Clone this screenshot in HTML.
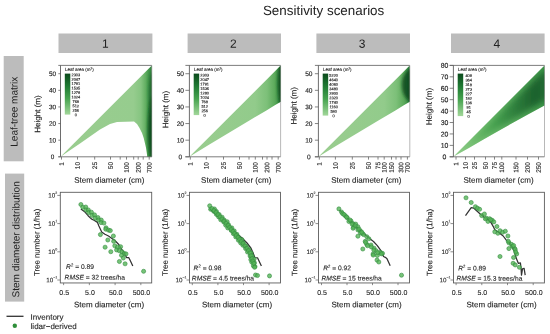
<!DOCTYPE html>
<html><head><meta charset="utf-8"><style>
html,body{margin:0;padding:0;background:#fff;}
svg{display:block;font-family:"Liberation Sans",sans-serif;text-rendering:geometricPrecision;will-change:transform;}
</style></head><body>
<svg width="550" height="334" viewBox="0 0 550 334">
<defs><filter id="blur2" x="-100%" y="-50%" width="300%" height="200%"><feGaussianBlur stdDeviation="1.6"/></filter><filter id="blur3" x="-20%" y="-20%" width="140%" height="140%"><feGaussianBlur stdDeviation="3"/></filter><linearGradient id="cbar" x1="0" y1="0" x2="0" y2="1">
<stop offset="0" stop-color="#0b4a1c"/><stop offset="0.3" stop-color="#1f7a33"/><stop offset="0.6" stop-color="#45a24e"/><stop offset="1" stop-color="#a2d79a"/></linearGradient><linearGradient id="hg0" gradientUnits="userSpaceOnUse" x1="60.5" y1="0" x2="151.8" y2="0">
<stop offset="0" stop-color="#9acd8f"/><stop offset="0.80" stop-color="#96cc8e"/><stop offset="0.88" stop-color="#86c581"/><stop offset="0.93" stop-color="#64b063"/><stop offset="0.965" stop-color="#43984b"/><stop offset="1" stop-color="#2f7f3c"/></linearGradient><clipPath id="cp0"><polygon points="60.50,156.80 151.80,65.40 151.80,156.80 147.20,156.80 147.00,154.40 146.00,147.80 144.90,143.00 143.70,138.00 142.00,133.00 139.50,128.00 137.00,124.00 134.00,121.60 117.00,122.00 110.00,124.00 100.00,129.50 90.00,136.50 80.00,143.50 70.00,150.20"/></clipPath><linearGradient id="hg1" gradientUnits="userSpaceOnUse" x1="189.4" y1="0" x2="280.6" y2="0">
<stop offset="0" stop-color="#9acd8f"/><stop offset="0.72" stop-color="#92cb8b"/><stop offset="0.85" stop-color="#7dc079"/><stop offset="0.93" stop-color="#5eac5d"/><stop offset="1" stop-color="#368c42"/></linearGradient><clipPath id="cp1"><polygon points="189.40,156.80 280.70,65.40 280.70,101.70 274.40,105.50 266.40,110.50 249.40,120.50 229.40,132.50 209.40,144.50"/></clipPath><linearGradient id="hg2" gradientUnits="userSpaceOnUse" x1="318.4" y1="0" x2="409.8" y2="0">
<stop offset="0" stop-color="#9acd8f"/><stop offset="0.72" stop-color="#92cb8b"/><stop offset="0.85" stop-color="#7dc079"/><stop offset="0.93" stop-color="#5eac5d"/><stop offset="1" stop-color="#368c42"/></linearGradient><clipPath id="cp2"><polygon points="318.40,156.80 409.70,65.40 409.70,101.70 403.40,105.50 395.40,110.50 378.40,120.50 358.40,132.50 338.40,144.50"/></clipPath><linearGradient id="hg3" gradientUnits="userSpaceOnUse" x1="453.4" y1="0" x2="544.5" y2="0">
<stop offset="0" stop-color="#93ce8c"/><stop offset="0.45" stop-color="#6cb96b"/><stop offset="1" stop-color="#3f9a4a"/></linearGradient>
<linearGradient id="hi3" gradientUnits="userSpaceOnUse" x1="453.4" y1="0" x2="544.5" y2="0">
<stop offset="0" stop-color="#88c884"/><stop offset="0.25" stop-color="#62b562"/><stop offset="0.45" stop-color="#45a04e"/><stop offset="0.7" stop-color="#2b7b3a"/><stop offset="0.9" stop-color="#1c602c"/><stop offset="1" stop-color="#236b33"/></linearGradient><clipPath id="cp3"><polygon points="453.60,156.50 544.50,65.40 544.50,105.60 528.40,114.20 513.40,122.60 498.40,131.00 483.40,139.60 468.40,148.20"/></clipPath></defs>
<text x="323.60" y="15.00" font-size="13.4" text-anchor="middle" fill="#222222" transform="rotate(0.05 323.60 15.00)">Sensitivity scenarios</text>
<rect x="58.50" y="33.50" width="93.90" height="19.50" fill="#bcbcbc"/>
<text x="105.45" y="47.70" font-size="12" text-anchor="middle" fill="#222" transform="rotate(0.05 105.45 47.70)">1</text>
<rect x="187.60" y="33.50" width="93.40" height="19.50" fill="#bcbcbc"/>
<text x="233.30" y="47.70" font-size="12" text-anchor="middle" fill="#222" transform="rotate(0.05 233.30 47.70)">2</text>
<rect x="316.40" y="33.50" width="93.60" height="19.50" fill="#bcbcbc"/>
<text x="362.20" y="47.70" font-size="12" text-anchor="middle" fill="#222" transform="rotate(0.05 362.20 47.70)">3</text>
<rect x="451.00" y="33.50" width="93.60" height="19.50" fill="#bcbcbc"/>
<text x="496.80" y="47.70" font-size="12" text-anchor="middle" fill="#222" transform="rotate(0.05 496.80 47.70)">4</text>
<rect x="3.70" y="56.00" width="20.00" height="105.30" fill="#bcbcbc"/>
<text x="17.60" y="111.70" font-size="10" text-anchor="middle" fill="#222222" transform="rotate(-89.95 17.60 111.70)">Leaf-tree matrix</text>
<rect x="5.00" y="173.60" width="19.20" height="128.00" fill="#bcbcbc"/>
<text x="19.40" y="239.40" font-size="10" text-anchor="middle" fill="#222222" transform="rotate(-89.95 19.40 239.40)">Stem diameter distribution</text>
<polygon points="60.50,156.80 151.80,65.40 151.80,156.80 147.20,156.80 147.00,154.40 146.00,147.80 144.90,143.00 143.70,138.00 142.00,133.00 139.50,128.00 137.00,124.00 134.00,121.60 117.00,122.00 110.00,124.00 100.00,129.50 90.00,136.50 80.00,143.50 70.00,150.20" fill="url(#hg0)"/>
<g clip-path="url(#cp0)"><ellipse cx="153.3" cy="130" rx="5.5" ry="34" fill="#124d1f" fill-opacity="0.95" filter="url(#blur2)"/></g>
<g clip-path="url(#cp0)"><ellipse cx="152.3" cy="94" rx="3.5" ry="22" fill="#1b5e28" fill-opacity="0.7" filter="url(#blur2)"/></g>
<line x1="58.30" y1="65.40" x2="151.80" y2="65.40" stroke="#5c5c5c" stroke-width="0.8"/>
<line x1="58.30" y1="156.80" x2="151.80" y2="156.80" stroke="#5c5c5c" stroke-width="0.8"/>
<line x1="60.50" y1="65.40" x2="60.50" y2="156.80" stroke="#5c5c5c" stroke-width="0.9"/>
<line x1="151.80" y1="65.40" x2="151.80" y2="156.80" stroke="#888" stroke-width="0.6"/>
<line x1="58.30" y1="156.80" x2="60.50" y2="156.80" stroke="#5c5c5c" stroke-width="0.75"/>
<text x="52.55" y="159.09" font-size="6.4" text-anchor="middle" fill="#222222" stroke="#222222" stroke-width="0.14" transform="rotate(0.05 52.55 159.09)">0</text>
<line x1="58.30" y1="140.18" x2="60.50" y2="140.18" stroke="#5c5c5c" stroke-width="0.75"/>
<text x="52.55" y="142.47" font-size="6.4" text-anchor="middle" fill="#222222" stroke="#222222" stroke-width="0.14" transform="rotate(0.05 52.55 142.47)">10</text>
<line x1="58.30" y1="123.56" x2="60.50" y2="123.56" stroke="#5c5c5c" stroke-width="0.75"/>
<text x="52.55" y="125.85" font-size="6.4" text-anchor="middle" fill="#222222" stroke="#222222" stroke-width="0.14" transform="rotate(0.05 52.55 125.85)">20</text>
<line x1="58.30" y1="106.95" x2="60.50" y2="106.95" stroke="#5c5c5c" stroke-width="0.75"/>
<text x="52.55" y="109.24" font-size="6.4" text-anchor="middle" fill="#222222" stroke="#222222" stroke-width="0.14" transform="rotate(0.05 52.55 109.24)">30</text>
<line x1="58.30" y1="90.33" x2="60.50" y2="90.33" stroke="#5c5c5c" stroke-width="0.75"/>
<text x="52.55" y="92.62" font-size="6.4" text-anchor="middle" fill="#222222" stroke="#222222" stroke-width="0.14" transform="rotate(0.05 52.55 92.62)">40</text>
<line x1="58.30" y1="73.71" x2="60.50" y2="73.71" stroke="#5c5c5c" stroke-width="0.75"/>
<text x="52.55" y="76.00" font-size="6.4" text-anchor="middle" fill="#222222" stroke="#222222" stroke-width="0.14" transform="rotate(0.05 52.55 76.00)">50</text>
<line x1="61.50" y1="156.80" x2="61.50" y2="159.60" stroke="#5c5c5c" stroke-width="0.75"/>
<text x="63.80" y="162.00" font-size="6.5" text-anchor="end" fill="#222222" stroke="#222222" stroke-width="0.15" transform="rotate(-89.95 63.80 162.00)">1</text>
<line x1="77.50" y1="156.80" x2="77.50" y2="159.60" stroke="#5c5c5c" stroke-width="0.75"/>
<text x="79.80" y="162.00" font-size="6.5" text-anchor="end" fill="#222222" stroke="#222222" stroke-width="0.15" transform="rotate(-89.95 79.80 162.00)">10</text>
<line x1="94.70" y1="156.80" x2="94.70" y2="159.60" stroke="#5c5c5c" stroke-width="0.75"/>
<text x="97.00" y="162.00" font-size="6.5" text-anchor="end" fill="#222222" stroke="#222222" stroke-width="0.15" transform="rotate(-89.95 97.00 162.00)">25</text>
<line x1="110.50" y1="156.80" x2="110.50" y2="159.60" stroke="#5c5c5c" stroke-width="0.75"/>
<text x="112.80" y="162.00" font-size="6.5" text-anchor="end" fill="#222222" stroke="#222222" stroke-width="0.15" transform="rotate(-89.95 112.80 162.00)">50</text>
<line x1="120.20" y1="156.80" x2="120.20" y2="159.60" stroke="#5c5c5c" stroke-width="0.75"/>
<line x1="126.50" y1="156.80" x2="126.50" y2="159.60" stroke="#5c5c5c" stroke-width="0.75"/>
<text x="128.80" y="162.00" font-size="6.5" text-anchor="end" fill="#222222" stroke="#222222" stroke-width="0.15" transform="rotate(-89.95 128.80 162.00)">100</text>
<line x1="133.70" y1="156.80" x2="133.70" y2="159.60" stroke="#5c5c5c" stroke-width="0.75"/>
<line x1="138.20" y1="156.80" x2="138.20" y2="159.60" stroke="#5c5c5c" stroke-width="0.75"/>
<text x="140.50" y="162.00" font-size="6.5" text-anchor="end" fill="#222222" stroke="#222222" stroke-width="0.15" transform="rotate(-89.95 140.50 162.00)">200</text>
<line x1="143.20" y1="156.80" x2="143.20" y2="159.60" stroke="#5c5c5c" stroke-width="0.75"/>
<line x1="149.20" y1="156.80" x2="149.20" y2="159.60" stroke="#5c5c5c" stroke-width="0.75"/>
<text x="151.50" y="162.00" font-size="6.5" text-anchor="end" fill="#222222" stroke="#222222" stroke-width="0.15" transform="rotate(-89.95 151.50 162.00)">700</text>
<rect x="64.80" y="73.60" width="5.50" height="41.00" fill="url(#cbar)"/>
<text x="65.00" y="70.90" font-size="4.5" text-anchor="start" fill="#222222" stroke="#222222" stroke-width="0.12" transform="rotate(0.05 65.00 70.90)">Leaf area (m<tspan font-size="3" dy="-1.3">2</tspan><tspan dy="1.3">)</tspan></text>
<text x="75.80" y="76.20" font-size="3.9" text-anchor="middle" fill="#222222" stroke="#222222" stroke-width="0.14" transform="rotate(0.05 75.80 76.20)">2303</text>
<text x="75.80" y="80.66" font-size="3.9" text-anchor="middle" fill="#222222" stroke="#222222" stroke-width="0.14" transform="rotate(0.05 75.80 80.66)">2047</text>
<text x="75.80" y="85.11" font-size="3.9" text-anchor="middle" fill="#222222" stroke="#222222" stroke-width="0.14" transform="rotate(0.05 75.80 85.11)">1791</text>
<text x="75.80" y="89.57" font-size="3.9" text-anchor="middle" fill="#222222" stroke="#222222" stroke-width="0.14" transform="rotate(0.05 75.80 89.57)">1535</text>
<text x="75.80" y="94.02" font-size="3.9" text-anchor="middle" fill="#222222" stroke="#222222" stroke-width="0.14" transform="rotate(0.05 75.80 94.02)">1279</text>
<text x="75.80" y="98.48" font-size="3.9" text-anchor="middle" fill="#222222" stroke="#222222" stroke-width="0.14" transform="rotate(0.05 75.80 98.48)">1024</text>
<text x="75.80" y="102.93" font-size="3.9" text-anchor="middle" fill="#222222" stroke="#222222" stroke-width="0.14" transform="rotate(0.05 75.80 102.93)">768</text>
<text x="75.80" y="107.39" font-size="3.9" text-anchor="middle" fill="#222222" stroke="#222222" stroke-width="0.14" transform="rotate(0.05 75.80 107.39)">512</text>
<text x="75.80" y="111.84" font-size="3.9" text-anchor="middle" fill="#222222" stroke="#222222" stroke-width="0.14" transform="rotate(0.05 75.80 111.84)">256</text>
<text x="75.80" y="116.30" font-size="3.9" text-anchor="middle" fill="#222222" stroke="#222222" stroke-width="0.14" transform="rotate(0.05 75.80 116.30)">0</text>
<text x="109.30" y="182.70" font-size="8" text-anchor="middle" fill="#222222" stroke="#222222" stroke-width="0.12" transform="rotate(0.05 109.30 182.70)">Stem diameter (cm)</text>
<text x="40.30" y="114.00" font-size="8" text-anchor="middle" fill="#222222" stroke="#222222" stroke-width="0.12" transform="rotate(-89.95 40.30 114.00)">Height (m)</text>
<polygon points="189.40,156.80 280.70,65.40 280.70,101.70 274.40,105.50 266.40,110.50 249.40,120.50 229.40,132.50 209.40,144.50" fill="url(#hg1)"/>
<g clip-path="url(#cp1)"><ellipse cx="281.8" cy="83" rx="4.0" ry="25" fill="#124d1f" fill-opacity="0.95" filter="url(#blur2)"/></g>
<line x1="185.40" y1="65.40" x2="280.60" y2="65.40" stroke="#5c5c5c" stroke-width="0.8"/>
<line x1="185.40" y1="156.80" x2="280.60" y2="156.80" stroke="#5c5c5c" stroke-width="0.8"/>
<line x1="189.40" y1="65.40" x2="189.40" y2="156.80" stroke="#5c5c5c" stroke-width="0.9"/>
<line x1="280.60" y1="65.40" x2="280.60" y2="156.80" stroke="#888" stroke-width="0.6"/>
<line x1="185.40" y1="156.80" x2="189.40" y2="156.80" stroke="#5c5c5c" stroke-width="0.75"/>
<text x="180.30" y="159.16" font-size="6.6" text-anchor="middle" fill="#222222" stroke="#222222" stroke-width="0.14" transform="rotate(0.05 180.30 159.16)">0</text>
<line x1="185.40" y1="140.18" x2="189.40" y2="140.18" stroke="#5c5c5c" stroke-width="0.75"/>
<text x="180.30" y="142.54" font-size="6.6" text-anchor="middle" fill="#222222" stroke="#222222" stroke-width="0.14" transform="rotate(0.05 180.30 142.54)">10</text>
<line x1="185.40" y1="123.56" x2="189.40" y2="123.56" stroke="#5c5c5c" stroke-width="0.75"/>
<text x="180.30" y="125.93" font-size="6.6" text-anchor="middle" fill="#222222" stroke="#222222" stroke-width="0.14" transform="rotate(0.05 180.30 125.93)">20</text>
<line x1="185.40" y1="106.95" x2="189.40" y2="106.95" stroke="#5c5c5c" stroke-width="0.75"/>
<text x="180.30" y="109.31" font-size="6.6" text-anchor="middle" fill="#222222" stroke="#222222" stroke-width="0.14" transform="rotate(0.05 180.30 109.31)">30</text>
<line x1="185.40" y1="90.33" x2="189.40" y2="90.33" stroke="#5c5c5c" stroke-width="0.75"/>
<text x="180.30" y="92.69" font-size="6.6" text-anchor="middle" fill="#222222" stroke="#222222" stroke-width="0.14" transform="rotate(0.05 180.30 92.69)">40</text>
<line x1="185.40" y1="73.71" x2="189.40" y2="73.71" stroke="#5c5c5c" stroke-width="0.75"/>
<text x="180.30" y="76.07" font-size="6.6" text-anchor="middle" fill="#222222" stroke="#222222" stroke-width="0.14" transform="rotate(0.05 180.30 76.07)">50</text>
<line x1="190.30" y1="156.80" x2="190.30" y2="159.60" stroke="#5c5c5c" stroke-width="0.75"/>
<text x="192.60" y="162.00" font-size="6.5" text-anchor="end" fill="#222222" stroke="#222222" stroke-width="0.15" transform="rotate(-89.95 192.60 162.00)">1</text>
<line x1="206.30" y1="156.80" x2="206.30" y2="159.60" stroke="#5c5c5c" stroke-width="0.75"/>
<text x="208.60" y="162.00" font-size="6.5" text-anchor="end" fill="#222222" stroke="#222222" stroke-width="0.15" transform="rotate(-89.95 208.60 162.00)">10</text>
<line x1="223.50" y1="156.80" x2="223.50" y2="159.60" stroke="#5c5c5c" stroke-width="0.75"/>
<text x="225.80" y="162.00" font-size="6.5" text-anchor="end" fill="#222222" stroke="#222222" stroke-width="0.15" transform="rotate(-89.95 225.80 162.00)">25</text>
<line x1="239.50" y1="156.80" x2="239.50" y2="159.60" stroke="#5c5c5c" stroke-width="0.75"/>
<text x="241.80" y="162.00" font-size="6.5" text-anchor="end" fill="#222222" stroke="#222222" stroke-width="0.15" transform="rotate(-89.95 241.80 162.00)">50</text>
<line x1="249.00" y1="156.80" x2="249.00" y2="159.60" stroke="#5c5c5c" stroke-width="0.75"/>
<line x1="255.30" y1="156.80" x2="255.30" y2="159.60" stroke="#5c5c5c" stroke-width="0.75"/>
<text x="257.60" y="162.00" font-size="6.5" text-anchor="end" fill="#222222" stroke="#222222" stroke-width="0.15" transform="rotate(-89.95 257.60 162.00)">100</text>
<line x1="262.50" y1="156.80" x2="262.50" y2="159.60" stroke="#5c5c5c" stroke-width="0.75"/>
<line x1="267.00" y1="156.80" x2="267.00" y2="159.60" stroke="#5c5c5c" stroke-width="0.75"/>
<text x="269.30" y="162.00" font-size="6.5" text-anchor="end" fill="#222222" stroke="#222222" stroke-width="0.15" transform="rotate(-89.95 269.30 162.00)">200</text>
<line x1="272.00" y1="156.80" x2="272.00" y2="159.60" stroke="#5c5c5c" stroke-width="0.75"/>
<line x1="278.20" y1="156.80" x2="278.20" y2="159.60" stroke="#5c5c5c" stroke-width="0.75"/>
<text x="280.50" y="162.00" font-size="6.5" text-anchor="end" fill="#222222" stroke="#222222" stroke-width="0.15" transform="rotate(-89.95 280.50 162.00)">700</text>
<rect x="193.70" y="73.60" width="5.50" height="41.50" fill="url(#cbar)"/>
<text x="193.90" y="70.90" font-size="4.5" text-anchor="start" fill="#222222" stroke="#222222" stroke-width="0.12" transform="rotate(0.05 193.90 70.90)">Leaf area (m<tspan font-size="3" dy="-1.3">2</tspan><tspan dy="1.3">)</tspan></text>
<text x="204.70" y="76.50" font-size="3.9" text-anchor="middle" fill="#222222" stroke="#222222" stroke-width="0.14" transform="rotate(0.05 204.70 76.50)">2303</text>
<text x="204.70" y="80.98" font-size="3.9" text-anchor="middle" fill="#222222" stroke="#222222" stroke-width="0.14" transform="rotate(0.05 204.70 80.98)">2047</text>
<text x="204.70" y="85.46" font-size="3.9" text-anchor="middle" fill="#222222" stroke="#222222" stroke-width="0.14" transform="rotate(0.05 204.70 85.46)">1791</text>
<text x="204.70" y="89.93" font-size="3.9" text-anchor="middle" fill="#222222" stroke="#222222" stroke-width="0.14" transform="rotate(0.05 204.70 89.93)">1536</text>
<text x="204.70" y="94.41" font-size="3.9" text-anchor="middle" fill="#222222" stroke="#222222" stroke-width="0.14" transform="rotate(0.05 204.70 94.41)">1280</text>
<text x="204.70" y="98.89" font-size="3.9" text-anchor="middle" fill="#222222" stroke="#222222" stroke-width="0.14" transform="rotate(0.05 204.70 98.89)">1024</text>
<text x="204.70" y="103.37" font-size="3.9" text-anchor="middle" fill="#222222" stroke="#222222" stroke-width="0.14" transform="rotate(0.05 204.70 103.37)">768</text>
<text x="204.70" y="107.84" font-size="3.9" text-anchor="middle" fill="#222222" stroke="#222222" stroke-width="0.14" transform="rotate(0.05 204.70 107.84)">512</text>
<text x="204.70" y="112.32" font-size="3.9" text-anchor="middle" fill="#222222" stroke="#222222" stroke-width="0.14" transform="rotate(0.05 204.70 112.32)">256</text>
<text x="204.70" y="116.80" font-size="3.9" text-anchor="middle" fill="#222222" stroke="#222222" stroke-width="0.14" transform="rotate(0.05 204.70 116.80)">0</text>
<text x="236.20" y="182.70" font-size="8" text-anchor="middle" fill="#222222" stroke="#222222" stroke-width="0.12" transform="rotate(0.05 236.20 182.70)">Stem diameter (cm)</text>
<text x="168.20" y="109.50" font-size="8" text-anchor="middle" fill="#222222" stroke="#222222" stroke-width="0.12" transform="rotate(-89.95 168.20 109.50)">Height (m)</text>
<polygon points="318.40,156.80 409.70,65.40 409.70,101.70 403.40,105.50 395.40,110.50 378.40,120.50 358.40,132.50 338.40,144.50" fill="url(#hg2)"/>
<g clip-path="url(#cp2)"><ellipse cx="411.8" cy="85" rx="10" ry="16" fill="#0f4a1c" fill-opacity="0.85" filter="url(#blur2)"/></g>
<g clip-path="url(#cp2)"><ellipse cx="410.3" cy="85" rx="3" ry="20" fill="#0f4a1c" fill-opacity="0.6" filter="url(#blur2)"/></g>
<line x1="314.90" y1="65.40" x2="409.80" y2="65.40" stroke="#5c5c5c" stroke-width="0.8"/>
<line x1="314.90" y1="156.80" x2="409.80" y2="156.80" stroke="#5c5c5c" stroke-width="0.8"/>
<line x1="318.40" y1="65.40" x2="318.40" y2="156.80" stroke="#5c5c5c" stroke-width="0.9"/>
<line x1="409.80" y1="65.40" x2="409.80" y2="156.80" stroke="#888" stroke-width="0.6"/>
<line x1="314.90" y1="156.80" x2="318.40" y2="156.80" stroke="#5c5c5c" stroke-width="0.75"/>
<text x="308.85" y="159.16" font-size="6.6" text-anchor="middle" fill="#222222" stroke="#222222" stroke-width="0.14" transform="rotate(0.05 308.85 159.16)">0</text>
<line x1="314.90" y1="140.18" x2="318.40" y2="140.18" stroke="#5c5c5c" stroke-width="0.75"/>
<text x="308.85" y="142.54" font-size="6.6" text-anchor="middle" fill="#222222" stroke="#222222" stroke-width="0.14" transform="rotate(0.05 308.85 142.54)">10</text>
<line x1="314.90" y1="123.56" x2="318.40" y2="123.56" stroke="#5c5c5c" stroke-width="0.75"/>
<text x="308.85" y="125.93" font-size="6.6" text-anchor="middle" fill="#222222" stroke="#222222" stroke-width="0.14" transform="rotate(0.05 308.85 125.93)">20</text>
<line x1="314.90" y1="106.95" x2="318.40" y2="106.95" stroke="#5c5c5c" stroke-width="0.75"/>
<text x="308.85" y="109.31" font-size="6.6" text-anchor="middle" fill="#222222" stroke="#222222" stroke-width="0.14" transform="rotate(0.05 308.85 109.31)">30</text>
<line x1="314.90" y1="90.33" x2="318.40" y2="90.33" stroke="#5c5c5c" stroke-width="0.75"/>
<text x="308.85" y="92.69" font-size="6.6" text-anchor="middle" fill="#222222" stroke="#222222" stroke-width="0.14" transform="rotate(0.05 308.85 92.69)">40</text>
<line x1="314.90" y1="73.71" x2="318.40" y2="73.71" stroke="#5c5c5c" stroke-width="0.75"/>
<text x="308.85" y="76.07" font-size="6.6" text-anchor="middle" fill="#222222" stroke="#222222" stroke-width="0.14" transform="rotate(0.05 308.85 76.07)">50</text>
<line x1="319.30" y1="156.80" x2="319.30" y2="159.60" stroke="#5c5c5c" stroke-width="0.75"/>
<text x="321.60" y="162.00" font-size="6.5" text-anchor="end" fill="#222222" stroke="#222222" stroke-width="0.15" transform="rotate(-89.95 321.60 162.00)">1</text>
<line x1="335.40" y1="156.80" x2="335.40" y2="159.60" stroke="#5c5c5c" stroke-width="0.75"/>
<text x="337.70" y="162.00" font-size="6.5" text-anchor="end" fill="#222222" stroke="#222222" stroke-width="0.15" transform="rotate(-89.95 337.70 162.00)">10</text>
<line x1="352.30" y1="156.80" x2="352.30" y2="159.60" stroke="#5c5c5c" stroke-width="0.75"/>
<text x="354.60" y="162.00" font-size="6.5" text-anchor="end" fill="#222222" stroke="#222222" stroke-width="0.15" transform="rotate(-89.95 354.60 162.00)">25</text>
<line x1="368.50" y1="156.80" x2="368.50" y2="159.60" stroke="#5c5c5c" stroke-width="0.75"/>
<text x="370.80" y="162.00" font-size="6.5" text-anchor="end" fill="#222222" stroke="#222222" stroke-width="0.15" transform="rotate(-89.95 370.80 162.00)">50</text>
<line x1="378.00" y1="156.80" x2="378.00" y2="159.60" stroke="#5c5c5c" stroke-width="0.75"/>
<text x="380.30" y="162.00" font-size="6.5" text-anchor="end" fill="#222222" stroke="#222222" stroke-width="0.15" transform="rotate(-89.95 380.30 162.00)">75</text>
<line x1="384.20" y1="156.80" x2="384.20" y2="159.60" stroke="#5c5c5c" stroke-width="0.75"/>
<text x="386.50" y="162.00" font-size="6.5" text-anchor="end" fill="#222222" stroke="#222222" stroke-width="0.15" transform="rotate(-89.95 386.50 162.00)">100</text>
<line x1="391.50" y1="156.80" x2="391.50" y2="159.60" stroke="#5c5c5c" stroke-width="0.75"/>
<text x="393.80" y="162.00" font-size="6.5" text-anchor="end" fill="#222222" stroke="#222222" stroke-width="0.15" transform="rotate(-89.95 393.80 162.00)">150</text>
<line x1="396.00" y1="156.80" x2="396.00" y2="159.60" stroke="#5c5c5c" stroke-width="0.75"/>
<line x1="401.00" y1="156.80" x2="401.00" y2="159.60" stroke="#5c5c5c" stroke-width="0.75"/>
<text x="403.30" y="162.00" font-size="6.5" text-anchor="end" fill="#222222" stroke="#222222" stroke-width="0.15" transform="rotate(-89.95 403.30 162.00)">300</text>
<line x1="407.40" y1="156.80" x2="407.40" y2="159.60" stroke="#5c5c5c" stroke-width="0.75"/>
<text x="409.70" y="162.00" font-size="6.5" text-anchor="end" fill="#222222" stroke="#222222" stroke-width="0.15" transform="rotate(-89.95 409.70 162.00)">700</text>
<rect x="322.70" y="73.60" width="5.50" height="42.00" fill="url(#cbar)"/>
<text x="322.90" y="70.90" font-size="4.5" text-anchor="start" fill="#222222" stroke="#222222" stroke-width="0.12" transform="rotate(0.05 322.90 70.90)">Leaf area (m<tspan font-size="3" dy="-1.3">2</tspan><tspan dy="1.3">)</tspan></text>
<text x="333.70" y="76.80" font-size="3.9" text-anchor="middle" fill="#222222" stroke="#222222" stroke-width="0.14" transform="rotate(0.05 333.70 76.80)">5220</text>
<text x="333.70" y="81.30" font-size="3.9" text-anchor="middle" fill="#222222" stroke="#222222" stroke-width="0.14" transform="rotate(0.05 333.70 81.30)">4640</text>
<text x="333.70" y="85.80" font-size="3.9" text-anchor="middle" fill="#222222" stroke="#222222" stroke-width="0.14" transform="rotate(0.05 333.70 85.80)">4060</text>
<text x="333.70" y="90.30" font-size="3.9" text-anchor="middle" fill="#222222" stroke="#222222" stroke-width="0.14" transform="rotate(0.05 333.70 90.30)">3480</text>
<text x="333.70" y="94.80" font-size="3.9" text-anchor="middle" fill="#222222" stroke="#222222" stroke-width="0.14" transform="rotate(0.05 333.70 94.80)">2900</text>
<text x="333.70" y="99.30" font-size="3.9" text-anchor="middle" fill="#222222" stroke="#222222" stroke-width="0.14" transform="rotate(0.05 333.70 99.30)">2320</text>
<text x="333.70" y="103.80" font-size="3.9" text-anchor="middle" fill="#222222" stroke="#222222" stroke-width="0.14" transform="rotate(0.05 333.70 103.80)">1740</text>
<text x="333.70" y="108.30" font-size="3.9" text-anchor="middle" fill="#222222" stroke="#222222" stroke-width="0.14" transform="rotate(0.05 333.70 108.30)">1160</text>
<text x="333.70" y="112.80" font-size="3.9" text-anchor="middle" fill="#222222" stroke="#222222" stroke-width="0.14" transform="rotate(0.05 333.70 112.80)">580</text>
<text x="333.70" y="117.30" font-size="3.9" text-anchor="middle" fill="#222222" stroke="#222222" stroke-width="0.14" transform="rotate(0.05 333.70 117.30)">0</text>
<text x="366.30" y="182.70" font-size="8" text-anchor="middle" fill="#222222" stroke="#222222" stroke-width="0.12" transform="rotate(0.05 366.30 182.70)">Stem diameter (cm)</text>
<text x="296.50" y="105.80" font-size="8" text-anchor="middle" fill="#222222" stroke="#222222" stroke-width="0.12" transform="rotate(-89.95 296.50 105.80)">Height (m)</text>
<polygon points="453.60,156.50 544.50,65.40 544.50,105.60 528.40,114.20 513.40,122.60 498.40,131.00 483.40,139.60 468.40,148.20" fill="url(#hg3)"/>
<g clip-path="url(#cp3)"><polygon points="453.40,156.80 457.95,152.47 462.51,148.13 467.06,143.80 471.62,139.46 476.17,135.13 480.73,130.79 485.28,126.46 489.84,122.12 494.39,117.79 498.95,113.45 503.50,109.12 508.06,104.80 512.62,100.47 517.17,96.14 521.73,91.81 526.28,87.48 530.84,83.16 535.39,78.85 539.95,74.54 544.50,70.22 550.50,70.22 550.50,100.78 544.50,100.78 539.95,103.47 535.39,106.16 530.84,108.84 526.28,111.58 521.73,114.38 517.17,117.17 512.62,119.96 508.06,122.75 503.50,125.55 498.95,128.34 494.39,131.18 489.84,134.03 485.28,136.87 480.73,139.72 476.17,142.57 471.62,145.41 467.06,148.26 462.51,151.11 457.95,153.95 453.40,156.80" fill="url(#hi3)" filter="url(#blur3)"/></g>
<line x1="449.60" y1="65.40" x2="544.50" y2="65.40" stroke="#5c5c5c" stroke-width="0.8"/>
<line x1="449.60" y1="156.80" x2="544.50" y2="156.80" stroke="#5c5c5c" stroke-width="0.8"/>
<line x1="453.40" y1="65.40" x2="453.40" y2="156.80" stroke="#5c5c5c" stroke-width="0.9"/>
<line x1="544.50" y1="65.40" x2="544.50" y2="156.80" stroke="#888" stroke-width="0.6"/>
<line x1="449.70" y1="156.80" x2="453.40" y2="156.80" stroke="#5c5c5c" stroke-width="0.75"/>
<text x="444.50" y="159.27" font-size="6.9" text-anchor="middle" fill="#222222" stroke="#222222" stroke-width="0.14" transform="rotate(0.05 444.50 159.27)">0</text>
<line x1="449.70" y1="145.38" x2="453.40" y2="145.38" stroke="#5c5c5c" stroke-width="0.75"/>
<text x="444.50" y="147.85" font-size="6.9" text-anchor="middle" fill="#222222" stroke="#222222" stroke-width="0.14" transform="rotate(0.05 444.50 147.85)">10</text>
<line x1="449.70" y1="133.95" x2="453.40" y2="133.95" stroke="#5c5c5c" stroke-width="0.75"/>
<text x="444.50" y="136.42" font-size="6.9" text-anchor="middle" fill="#222222" stroke="#222222" stroke-width="0.14" transform="rotate(0.05 444.50 136.42)">20</text>
<line x1="449.70" y1="122.53" x2="453.40" y2="122.53" stroke="#5c5c5c" stroke-width="0.75"/>
<text x="444.50" y="125.00" font-size="6.9" text-anchor="middle" fill="#222222" stroke="#222222" stroke-width="0.14" transform="rotate(0.05 444.50 125.00)">30</text>
<line x1="449.70" y1="111.10" x2="453.40" y2="111.10" stroke="#5c5c5c" stroke-width="0.75"/>
<text x="444.50" y="113.57" font-size="6.9" text-anchor="middle" fill="#222222" stroke="#222222" stroke-width="0.14" transform="rotate(0.05 444.50 113.57)">40</text>
<line x1="449.70" y1="99.68" x2="453.40" y2="99.68" stroke="#5c5c5c" stroke-width="0.75"/>
<text x="444.50" y="102.15" font-size="6.9" text-anchor="middle" fill="#222222" stroke="#222222" stroke-width="0.14" transform="rotate(0.05 444.50 102.15)">50</text>
<line x1="449.70" y1="88.25" x2="453.40" y2="88.25" stroke="#5c5c5c" stroke-width="0.75"/>
<text x="444.50" y="90.72" font-size="6.9" text-anchor="middle" fill="#222222" stroke="#222222" stroke-width="0.14" transform="rotate(0.05 444.50 90.72)">60</text>
<line x1="449.70" y1="76.83" x2="453.40" y2="76.83" stroke="#5c5c5c" stroke-width="0.75"/>
<text x="444.50" y="79.30" font-size="6.9" text-anchor="middle" fill="#222222" stroke="#222222" stroke-width="0.14" transform="rotate(0.05 444.50 79.30)">70</text>
<line x1="449.70" y1="65.40" x2="453.40" y2="65.40" stroke="#5c5c5c" stroke-width="0.75"/>
<text x="444.50" y="67.87" font-size="6.9" text-anchor="middle" fill="#222222" stroke="#222222" stroke-width="0.14" transform="rotate(0.05 444.50 67.87)">80</text>
<line x1="456.00" y1="156.80" x2="456.00" y2="159.60" stroke="#5c5c5c" stroke-width="0.75"/>
<text x="458.30" y="162.00" font-size="6.5" text-anchor="end" fill="#222222" stroke="#222222" stroke-width="0.15" transform="rotate(-89.95 458.30 162.00)">1</text>
<line x1="465.50" y1="156.80" x2="465.50" y2="159.60" stroke="#5c5c5c" stroke-width="0.75"/>
<text x="467.80" y="162.00" font-size="6.5" text-anchor="end" fill="#222222" stroke="#222222" stroke-width="0.15" transform="rotate(-89.95 467.80 162.00)">10</text>
<line x1="474.50" y1="156.80" x2="474.50" y2="159.60" stroke="#5c5c5c" stroke-width="0.75"/>
<text x="476.80" y="162.00" font-size="6.5" text-anchor="end" fill="#222222" stroke="#222222" stroke-width="0.15" transform="rotate(-89.95 476.80 162.00)">25</text>
<line x1="485.50" y1="156.80" x2="485.50" y2="159.60" stroke="#5c5c5c" stroke-width="0.75"/>
<text x="487.80" y="162.00" font-size="6.5" text-anchor="end" fill="#222222" stroke="#222222" stroke-width="0.15" transform="rotate(-89.95 487.80 162.00)">50</text>
<line x1="494.50" y1="156.80" x2="494.50" y2="159.60" stroke="#5c5c5c" stroke-width="0.75"/>
<text x="496.80" y="162.00" font-size="6.5" text-anchor="end" fill="#222222" stroke="#222222" stroke-width="0.15" transform="rotate(-89.95 496.80 162.00)">75</text>
<line x1="501.80" y1="156.80" x2="501.80" y2="159.60" stroke="#5c5c5c" stroke-width="0.75"/>
<text x="504.10" y="162.00" font-size="6.5" text-anchor="end" fill="#222222" stroke="#222222" stroke-width="0.15" transform="rotate(-89.95 504.10 162.00)">100</text>
<line x1="516.00" y1="156.80" x2="516.00" y2="159.60" stroke="#5c5c5c" stroke-width="0.75"/>
<text x="518.30" y="162.00" font-size="6.5" text-anchor="end" fill="#222222" stroke="#222222" stroke-width="0.15" transform="rotate(-89.95 518.30 162.00)">150</text>
<line x1="527.50" y1="156.80" x2="527.50" y2="159.60" stroke="#5c5c5c" stroke-width="0.75"/>
<text x="529.80" y="162.00" font-size="6.5" text-anchor="end" fill="#222222" stroke="#222222" stroke-width="0.15" transform="rotate(-89.95 529.80 162.00)">200</text>
<line x1="538.50" y1="156.80" x2="538.50" y2="159.60" stroke="#5c5c5c" stroke-width="0.75"/>
<text x="540.80" y="162.00" font-size="6.5" text-anchor="end" fill="#222222" stroke="#222222" stroke-width="0.15" transform="rotate(-89.95 540.80 162.00)">250</text>
<rect x="457.70" y="73.60" width="5.50" height="42.50" fill="url(#cbar)"/>
<text x="457.90" y="70.90" font-size="4.5" text-anchor="start" fill="#222222" stroke="#222222" stroke-width="0.12" transform="rotate(0.05 457.90 70.90)">Leaf area (m<tspan font-size="3" dy="-1.3">2</tspan><tspan dy="1.3">)</tspan></text>
<text x="468.70" y="77.10" font-size="3.9" text-anchor="middle" fill="#222222" stroke="#222222" stroke-width="0.14" transform="rotate(0.05 468.70 77.10)">409</text>
<text x="468.70" y="81.62" font-size="3.9" text-anchor="middle" fill="#222222" stroke="#222222" stroke-width="0.14" transform="rotate(0.05 468.70 81.62)">364</text>
<text x="468.70" y="86.14" font-size="3.9" text-anchor="middle" fill="#222222" stroke="#222222" stroke-width="0.14" transform="rotate(0.05 468.70 86.14)">318</text>
<text x="468.70" y="90.67" font-size="3.9" text-anchor="middle" fill="#222222" stroke="#222222" stroke-width="0.14" transform="rotate(0.05 468.70 90.67)">273</text>
<text x="468.70" y="95.19" font-size="3.9" text-anchor="middle" fill="#222222" stroke="#222222" stroke-width="0.14" transform="rotate(0.05 468.70 95.19)">227</text>
<text x="468.70" y="99.71" font-size="3.9" text-anchor="middle" fill="#222222" stroke="#222222" stroke-width="0.14" transform="rotate(0.05 468.70 99.71)">182</text>
<text x="468.70" y="104.23" font-size="3.9" text-anchor="middle" fill="#222222" stroke="#222222" stroke-width="0.14" transform="rotate(0.05 468.70 104.23)">136</text>
<text x="468.70" y="108.76" font-size="3.9" text-anchor="middle" fill="#222222" stroke="#222222" stroke-width="0.14" transform="rotate(0.05 468.70 108.76)">91</text>
<text x="468.70" y="113.28" font-size="3.9" text-anchor="middle" fill="#222222" stroke="#222222" stroke-width="0.14" transform="rotate(0.05 468.70 113.28)">45</text>
<text x="468.70" y="117.80" font-size="3.9" text-anchor="middle" fill="#222222" stroke="#222222" stroke-width="0.14" transform="rotate(0.05 468.70 117.80)">0</text>
<text x="498.50" y="182.70" font-size="8" text-anchor="middle" fill="#222222" stroke="#222222" stroke-width="0.12" transform="rotate(0.05 498.50 182.70)">Stem diameter (cm)</text>
<text x="431.80" y="106.60" font-size="8" text-anchor="middle" fill="#222222" stroke="#222222" stroke-width="0.12" transform="rotate(-89.95 431.80 106.60)">Height (m)</text>
<rect x="60.30" y="192.30" width="91.40" height="90.65" fill="none" stroke="#5c5c5c" stroke-width="0.9"/>
<line x1="57.30" y1="195.40" x2="60.30" y2="195.40" stroke="#5c5c5c" stroke-width="0.7"/>
<text x="57.30" y="197.60" font-size="6.3" text-anchor="end" fill="#222222" stroke="#222222" stroke-width="0.1" transform="rotate(0.05 57.30 197.60)">10<tspan font-size="3.6" dy="-3.6">2</tspan></text>
<line x1="57.30" y1="223.60" x2="60.30" y2="223.60" stroke="#5c5c5c" stroke-width="0.7"/>
<text x="57.30" y="225.80" font-size="6.3" text-anchor="end" fill="#222222" stroke="#222222" stroke-width="0.1" transform="rotate(0.05 57.30 225.80)">10<tspan font-size="3.6" dy="-3.6">1</tspan></text>
<line x1="57.30" y1="251.80" x2="60.30" y2="251.80" stroke="#5c5c5c" stroke-width="0.7"/>
<text x="57.30" y="254.00" font-size="6.3" text-anchor="end" fill="#222222" stroke="#222222" stroke-width="0.1" transform="rotate(0.05 57.30 254.00)">10<tspan font-size="3.6" dy="-3.6">0</tspan></text>
<line x1="57.30" y1="280.00" x2="60.30" y2="280.00" stroke="#5c5c5c" stroke-width="0.7"/>
<text x="57.30" y="282.20" font-size="6.3" text-anchor="end" fill="#222222" stroke="#222222" stroke-width="0.1" transform="rotate(0.05 57.30 282.20)">10<tspan font-size="3.6" dy="-3.6">−1</tspan></text>
<line x1="63.60" y1="282.95" x2="63.60" y2="285.15" stroke="#5c5c5c" stroke-width="0.7"/>
<text x="64.20" y="295.00" font-size="7" text-anchor="middle" fill="#222222" stroke="#222222" stroke-width="0.1" transform="rotate(0.05 64.20 295.00)">0.5</text>
<line x1="89.35" y1="282.95" x2="89.35" y2="285.15" stroke="#5c5c5c" stroke-width="0.7"/>
<text x="89.95" y="295.00" font-size="7" text-anchor="middle" fill="#222222" stroke="#222222" stroke-width="0.1" transform="rotate(0.05 89.95 295.00)">5.0</text>
<line x1="115.10" y1="282.95" x2="115.10" y2="285.15" stroke="#5c5c5c" stroke-width="0.7"/>
<text x="115.70" y="295.00" font-size="7" text-anchor="middle" fill="#222222" stroke="#222222" stroke-width="0.1" transform="rotate(0.05 115.70 295.00)">50.0</text>
<line x1="140.85" y1="282.95" x2="140.85" y2="285.15" stroke="#5c5c5c" stroke-width="0.7"/>
<text x="141.45" y="295.00" font-size="7" text-anchor="middle" fill="#222222" stroke="#222222" stroke-width="0.1" transform="rotate(0.05 141.45 295.00)">500.0</text>
<text x="109.00" y="307.20" font-size="8" text-anchor="middle" fill="#222222" stroke="#222222" stroke-width="0.12" transform="rotate(0.05 109.00 307.20)">Stem diameter (cm)</text>
<text x="39.50" y="242.40" font-size="7.85" text-anchor="middle" fill="#222222" stroke="#222222" stroke-width="0.12" transform="rotate(-89.95 39.50 242.40)">Tree number (1/ha)</text>
<polyline points="80.90,209.00 85.00,212.10 88.10,215.70 91.30,218.90 94.00,220.20 97.50,222.40 98.90,226.00 101.70,231.90 104.90,234.20 108.50,236.00 111.60,238.20 115.60,241.30 118.80,244.50 121.50,249.00 124.70,253.50 126.50,257.50 128.70,257.50 130.10,260.20 132.80,266.00" fill="none" stroke="#333333" stroke-width="1.25" stroke-linejoin="round"/>
<circle cx="80.90" cy="204.50" r="2.05" fill="#55b558" fill-opacity="0.8" stroke="#348c40" stroke-width="0.6"/>
<circle cx="82.78" cy="207.21" r="2.05" fill="#55b558" fill-opacity="0.8" stroke="#348c40" stroke-width="0.6"/>
<circle cx="85.74" cy="207.05" r="2.05" fill="#55b558" fill-opacity="0.8" stroke="#348c40" stroke-width="0.6"/>
<circle cx="86.03" cy="209.95" r="2.05" fill="#55b558" fill-opacity="0.8" stroke="#348c40" stroke-width="0.6"/>
<circle cx="88.34" cy="209.97" r="2.05" fill="#55b558" fill-opacity="0.8" stroke="#348c40" stroke-width="0.6"/>
<circle cx="88.71" cy="212.58" r="2.05" fill="#55b558" fill-opacity="0.8" stroke="#348c40" stroke-width="0.6"/>
<circle cx="91.43" cy="212.20" r="2.05" fill="#55b558" fill-opacity="0.8" stroke="#348c40" stroke-width="0.6"/>
<circle cx="92.09" cy="215.46" r="2.05" fill="#55b558" fill-opacity="0.8" stroke="#348c40" stroke-width="0.6"/>
<circle cx="94.55" cy="214.88" r="2.05" fill="#55b558" fill-opacity="0.8" stroke="#348c40" stroke-width="0.6"/>
<circle cx="95.33" cy="218.13" r="2.05" fill="#55b558" fill-opacity="0.8" stroke="#348c40" stroke-width="0.6"/>
<circle cx="97.98" cy="217.59" r="2.05" fill="#55b558" fill-opacity="0.8" stroke="#348c40" stroke-width="0.6"/>
<circle cx="98.69" cy="219.97" r="2.05" fill="#55b558" fill-opacity="0.8" stroke="#348c40" stroke-width="0.6"/>
<circle cx="101.29" cy="220.07" r="2.05" fill="#55b558" fill-opacity="0.8" stroke="#348c40" stroke-width="0.6"/>
<circle cx="101.10" cy="222.60" r="2.05" fill="#55b558" fill-opacity="0.8" stroke="#348c40" stroke-width="0.6"/>
<circle cx="103.92" cy="223.06" r="2.05" fill="#55b558" fill-opacity="0.8" stroke="#348c40" stroke-width="0.6"/>
<circle cx="106.00" cy="227.80" r="2.05" fill="#55b558" fill-opacity="0.8" stroke="#348c40" stroke-width="0.6"/>
<circle cx="105.80" cy="229.20" r="2.05" fill="#55b558" fill-opacity="0.8" stroke="#348c40" stroke-width="0.6"/>
<circle cx="108.50" cy="230.10" r="2.05" fill="#55b558" fill-opacity="0.8" stroke="#348c40" stroke-width="0.6"/>
<circle cx="110.30" cy="230.60" r="2.05" fill="#55b558" fill-opacity="0.8" stroke="#348c40" stroke-width="0.6"/>
<circle cx="100.40" cy="234.60" r="2.05" fill="#55b558" fill-opacity="0.8" stroke="#348c40" stroke-width="0.6"/>
<circle cx="113.40" cy="236.00" r="2.05" fill="#55b558" fill-opacity="0.8" stroke="#348c40" stroke-width="0.6"/>
<circle cx="107.80" cy="240.00" r="2.05" fill="#55b558" fill-opacity="0.8" stroke="#348c40" stroke-width="0.6"/>
<circle cx="113.70" cy="241.30" r="2.05" fill="#55b558" fill-opacity="0.8" stroke="#348c40" stroke-width="0.6"/>
<circle cx="105.10" cy="247.20" r="2.05" fill="#55b558" fill-opacity="0.8" stroke="#348c40" stroke-width="0.6"/>
<circle cx="110.80" cy="251.70" r="2.05" fill="#55b558" fill-opacity="0.8" stroke="#348c40" stroke-width="0.6"/>
<circle cx="114.80" cy="245.80" r="2.05" fill="#55b558" fill-opacity="0.8" stroke="#348c40" stroke-width="0.6"/>
<circle cx="117.50" cy="247.20" r="2.05" fill="#55b558" fill-opacity="0.8" stroke="#348c40" stroke-width="0.6"/>
<circle cx="120.60" cy="246.70" r="2.05" fill="#55b558" fill-opacity="0.8" stroke="#348c40" stroke-width="0.6"/>
<circle cx="116.60" cy="249.90" r="2.05" fill="#55b558" fill-opacity="0.8" stroke="#348c40" stroke-width="0.6"/>
<circle cx="119.30" cy="250.80" r="2.05" fill="#55b558" fill-opacity="0.8" stroke="#348c40" stroke-width="0.6"/>
<circle cx="122.00" cy="251.70" r="2.05" fill="#55b558" fill-opacity="0.8" stroke="#348c40" stroke-width="0.6"/>
<circle cx="124.20" cy="253.50" r="2.05" fill="#55b558" fill-opacity="0.8" stroke="#348c40" stroke-width="0.6"/>
<circle cx="126.00" cy="253.90" r="2.05" fill="#55b558" fill-opacity="0.8" stroke="#348c40" stroke-width="0.6"/>
<circle cx="121.50" cy="255.30" r="2.05" fill="#55b558" fill-opacity="0.8" stroke="#348c40" stroke-width="0.6"/>
<circle cx="123.30" cy="258.00" r="2.05" fill="#55b558" fill-opacity="0.8" stroke="#348c40" stroke-width="0.6"/>
<circle cx="119.40" cy="261.50" r="2.05" fill="#55b558" fill-opacity="0.8" stroke="#348c40" stroke-width="0.6"/>
<circle cx="125.10" cy="263.80" r="2.05" fill="#55b558" fill-opacity="0.8" stroke="#348c40" stroke-width="0.6"/>
<circle cx="143.60" cy="271.30" r="2.05" fill="#55b558" fill-opacity="0.8" stroke="#348c40" stroke-width="0.6"/>
<text x="66.10" y="269.10" font-size="6.7" text-anchor="start" fill="#222222" stroke="#222222" stroke-width="0.1" transform="rotate(0.05 66.10 269.10)"><tspan font-style="italic">R</tspan><tspan font-size="4.2" dy="-2.6">2</tspan><tspan dy="2.6"> = 0.89</tspan></text>
<text x="64.60" y="279.60" font-size="6.7" text-anchor="start" fill="#222222" stroke="#222222" stroke-width="0.1" transform="rotate(0.05 64.60 279.60)"><tspan font-style="italic">RMSE</tspan> = 32 trees/ha</text>
<rect x="189.50" y="192.30" width="91.00" height="90.65" fill="none" stroke="#5c5c5c" stroke-width="0.9"/>
<line x1="186.50" y1="195.40" x2="189.50" y2="195.40" stroke="#5c5c5c" stroke-width="0.7"/>
<text x="186.50" y="197.60" font-size="6.3" text-anchor="end" fill="#222222" stroke="#222222" stroke-width="0.1" transform="rotate(0.05 186.50 197.60)">10<tspan font-size="3.6" dy="-3.6">2</tspan></text>
<line x1="186.50" y1="223.60" x2="189.50" y2="223.60" stroke="#5c5c5c" stroke-width="0.7"/>
<text x="186.50" y="225.80" font-size="6.3" text-anchor="end" fill="#222222" stroke="#222222" stroke-width="0.1" transform="rotate(0.05 186.50 225.80)">10<tspan font-size="3.6" dy="-3.6">1</tspan></text>
<line x1="186.50" y1="251.80" x2="189.50" y2="251.80" stroke="#5c5c5c" stroke-width="0.7"/>
<text x="186.50" y="254.00" font-size="6.3" text-anchor="end" fill="#222222" stroke="#222222" stroke-width="0.1" transform="rotate(0.05 186.50 254.00)">10<tspan font-size="3.6" dy="-3.6">0</tspan></text>
<line x1="186.50" y1="280.00" x2="189.50" y2="280.00" stroke="#5c5c5c" stroke-width="0.7"/>
<text x="186.50" y="282.20" font-size="6.3" text-anchor="end" fill="#222222" stroke="#222222" stroke-width="0.1" transform="rotate(0.05 186.50 282.20)">10<tspan font-size="3.6" dy="-3.6">−1</tspan></text>
<line x1="192.30" y1="282.95" x2="192.30" y2="285.15" stroke="#5c5c5c" stroke-width="0.7"/>
<text x="192.90" y="295.00" font-size="7" text-anchor="middle" fill="#222222" stroke="#222222" stroke-width="0.1" transform="rotate(0.05 192.90 295.00)">0.5</text>
<line x1="217.90" y1="282.95" x2="217.90" y2="285.15" stroke="#5c5c5c" stroke-width="0.7"/>
<text x="218.50" y="295.00" font-size="7" text-anchor="middle" fill="#222222" stroke="#222222" stroke-width="0.1" transform="rotate(0.05 218.50 295.00)">5.0</text>
<line x1="243.50" y1="282.95" x2="243.50" y2="285.15" stroke="#5c5c5c" stroke-width="0.7"/>
<text x="244.10" y="295.00" font-size="7" text-anchor="middle" fill="#222222" stroke="#222222" stroke-width="0.1" transform="rotate(0.05 244.10 295.00)">50.0</text>
<line x1="269.10" y1="282.95" x2="269.10" y2="285.15" stroke="#5c5c5c" stroke-width="0.7"/>
<text x="269.70" y="295.00" font-size="7" text-anchor="middle" fill="#222222" stroke="#222222" stroke-width="0.1" transform="rotate(0.05 269.70 295.00)">500.0</text>
<text x="237.00" y="307.20" font-size="8" text-anchor="middle" fill="#222222" stroke="#222222" stroke-width="0.12" transform="rotate(0.05 237.00 307.20)">Stem diameter (cm)</text>
<text x="167.80" y="242.40" font-size="7.85" text-anchor="middle" fill="#222222" stroke="#222222" stroke-width="0.12" transform="rotate(-89.95 167.80 242.40)">Tree number (1/ha)</text>
<polyline points="209.60,208.80 215.00,213.50 222.00,219.80 230.00,228.00 237.00,234.00 241.50,237.40 247.00,243.00 251.00,248.20 253.20,253.30 254.80,257.50 257.50,257.80 261.40,266.00" fill="none" stroke="#333333" stroke-width="1.25" stroke-linejoin="round"/>
<circle cx="209.70" cy="205.80" r="2.05" fill="#55b558" fill-opacity="0.8" stroke="#348c40" stroke-width="0.6"/>
<circle cx="210.65" cy="209.30" r="2.05" fill="#55b558" fill-opacity="0.8" stroke="#348c40" stroke-width="0.6"/>
<circle cx="214.47" cy="208.98" r="2.05" fill="#55b558" fill-opacity="0.8" stroke="#348c40" stroke-width="0.6"/>
<circle cx="213.75" cy="211.35" r="2.05" fill="#55b558" fill-opacity="0.8" stroke="#348c40" stroke-width="0.6"/>
<circle cx="216.44" cy="211.44" r="2.05" fill="#55b558" fill-opacity="0.8" stroke="#348c40" stroke-width="0.6"/>
<circle cx="216.44" cy="214.42" r="2.05" fill="#55b558" fill-opacity="0.8" stroke="#348c40" stroke-width="0.6"/>
<circle cx="219.15" cy="214.50" r="2.05" fill="#55b558" fill-opacity="0.8" stroke="#348c40" stroke-width="0.6"/>
<circle cx="218.57" cy="216.86" r="2.05" fill="#55b558" fill-opacity="0.8" stroke="#348c40" stroke-width="0.6"/>
<circle cx="222.13" cy="217.23" r="2.05" fill="#55b558" fill-opacity="0.8" stroke="#348c40" stroke-width="0.6"/>
<circle cx="220.72" cy="219.79" r="2.05" fill="#55b558" fill-opacity="0.8" stroke="#348c40" stroke-width="0.6"/>
<circle cx="224.20" cy="220.05" r="2.05" fill="#55b558" fill-opacity="0.8" stroke="#348c40" stroke-width="0.6"/>
<circle cx="223.70" cy="222.05" r="2.05" fill="#55b558" fill-opacity="0.8" stroke="#348c40" stroke-width="0.6"/>
<circle cx="227.15" cy="221.74" r="2.05" fill="#55b558" fill-opacity="0.8" stroke="#348c40" stroke-width="0.6"/>
<circle cx="225.73" cy="225.21" r="2.05" fill="#55b558" fill-opacity="0.8" stroke="#348c40" stroke-width="0.6"/>
<circle cx="228.55" cy="224.78" r="2.05" fill="#55b558" fill-opacity="0.8" stroke="#348c40" stroke-width="0.6"/>
<circle cx="227.73" cy="227.91" r="2.05" fill="#55b558" fill-opacity="0.8" stroke="#348c40" stroke-width="0.6"/>
<circle cx="231.79" cy="227.88" r="2.05" fill="#55b558" fill-opacity="0.8" stroke="#348c40" stroke-width="0.6"/>
<circle cx="231.23" cy="230.48" r="2.05" fill="#55b558" fill-opacity="0.8" stroke="#348c40" stroke-width="0.6"/>
<circle cx="234.21" cy="230.91" r="2.05" fill="#55b558" fill-opacity="0.8" stroke="#348c40" stroke-width="0.6"/>
<circle cx="233.37" cy="233.65" r="2.05" fill="#55b558" fill-opacity="0.8" stroke="#348c40" stroke-width="0.6"/>
<circle cx="236.88" cy="234.33" r="2.05" fill="#55b558" fill-opacity="0.8" stroke="#348c40" stroke-width="0.6"/>
<circle cx="235.75" cy="236.90" r="2.05" fill="#55b558" fill-opacity="0.8" stroke="#348c40" stroke-width="0.6"/>
<circle cx="238.44" cy="237.04" r="2.05" fill="#55b558" fill-opacity="0.8" stroke="#348c40" stroke-width="0.6"/>
<circle cx="238.45" cy="240.30" r="2.05" fill="#55b558" fill-opacity="0.8" stroke="#348c40" stroke-width="0.6"/>
<circle cx="241.86" cy="239.54" r="2.05" fill="#55b558" fill-opacity="0.8" stroke="#348c40" stroke-width="0.6"/>
<circle cx="240.64" cy="242.91" r="2.05" fill="#55b558" fill-opacity="0.8" stroke="#348c40" stroke-width="0.6"/>
<circle cx="243.40" cy="242.75" r="2.05" fill="#55b558" fill-opacity="0.8" stroke="#348c40" stroke-width="0.6"/>
<circle cx="242.96" cy="245.31" r="2.05" fill="#55b558" fill-opacity="0.8" stroke="#348c40" stroke-width="0.6"/>
<circle cx="246.11" cy="246.25" r="2.05" fill="#55b558" fill-opacity="0.8" stroke="#348c40" stroke-width="0.6"/>
<circle cx="245.58" cy="248.60" r="2.05" fill="#55b558" fill-opacity="0.8" stroke="#348c40" stroke-width="0.6"/>
<circle cx="248.84" cy="249.54" r="2.05" fill="#55b558" fill-opacity="0.8" stroke="#348c40" stroke-width="0.6"/>
<circle cx="247.52" cy="252.04" r="2.05" fill="#55b558" fill-opacity="0.8" stroke="#348c40" stroke-width="0.6"/>
<circle cx="251.03" cy="252.76" r="2.05" fill="#55b558" fill-opacity="0.8" stroke="#348c40" stroke-width="0.6"/>
<circle cx="250.08" cy="255.97" r="2.05" fill="#55b558" fill-opacity="0.8" stroke="#348c40" stroke-width="0.6"/>
<circle cx="252.04" cy="255.86" r="2.05" fill="#55b558" fill-opacity="0.8" stroke="#348c40" stroke-width="0.6"/>
<circle cx="250.86" cy="259.67" r="2.05" fill="#55b558" fill-opacity="0.8" stroke="#348c40" stroke-width="0.6"/>
<circle cx="254.12" cy="259.04" r="2.05" fill="#55b558" fill-opacity="0.8" stroke="#348c40" stroke-width="0.6"/>
<circle cx="251.84" cy="262.22" r="2.05" fill="#55b558" fill-opacity="0.8" stroke="#348c40" stroke-width="0.6"/>
<circle cx="254.45" cy="262.78" r="2.05" fill="#55b558" fill-opacity="0.8" stroke="#348c40" stroke-width="0.6"/>
<circle cx="253.34" cy="265.82" r="2.05" fill="#55b558" fill-opacity="0.8" stroke="#348c40" stroke-width="0.6"/>
<circle cx="254.98" cy="266.50" r="2.05" fill="#55b558" fill-opacity="0.8" stroke="#348c40" stroke-width="0.6"/>
<circle cx="212.00" cy="208.50" r="2.05" fill="#55b558" fill-opacity="0.8" stroke="#348c40" stroke-width="0.6"/>
<circle cx="214.00" cy="210.50" r="2.05" fill="#55b558" fill-opacity="0.8" stroke="#348c40" stroke-width="0.6"/>
<circle cx="216.00" cy="212.50" r="2.05" fill="#55b558" fill-opacity="0.8" stroke="#348c40" stroke-width="0.6"/>
<circle cx="218.00" cy="214.67" r="2.05" fill="#55b558" fill-opacity="0.8" stroke="#348c40" stroke-width="0.6"/>
<circle cx="220.00" cy="216.83" r="2.05" fill="#55b558" fill-opacity="0.8" stroke="#348c40" stroke-width="0.6"/>
<circle cx="222.00" cy="219.00" r="2.05" fill="#55b558" fill-opacity="0.8" stroke="#348c40" stroke-width="0.6"/>
<circle cx="224.00" cy="221.17" r="2.05" fill="#55b558" fill-opacity="0.8" stroke="#348c40" stroke-width="0.6"/>
<circle cx="226.00" cy="223.33" r="2.05" fill="#55b558" fill-opacity="0.8" stroke="#348c40" stroke-width="0.6"/>
<circle cx="228.00" cy="225.50" r="2.05" fill="#55b558" fill-opacity="0.8" stroke="#348c40" stroke-width="0.6"/>
<circle cx="229.67" cy="227.50" r="2.05" fill="#55b558" fill-opacity="0.8" stroke="#348c40" stroke-width="0.6"/>
<circle cx="231.33" cy="229.50" r="2.05" fill="#55b558" fill-opacity="0.8" stroke="#348c40" stroke-width="0.6"/>
<circle cx="233.00" cy="231.50" r="2.05" fill="#55b558" fill-opacity="0.8" stroke="#348c40" stroke-width="0.6"/>
<circle cx="234.67" cy="233.50" r="2.05" fill="#55b558" fill-opacity="0.8" stroke="#348c40" stroke-width="0.6"/>
<circle cx="236.33" cy="235.50" r="2.05" fill="#55b558" fill-opacity="0.8" stroke="#348c40" stroke-width="0.6"/>
<circle cx="238.00" cy="237.50" r="2.05" fill="#55b558" fill-opacity="0.8" stroke="#348c40" stroke-width="0.6"/>
<circle cx="239.67" cy="239.50" r="2.05" fill="#55b558" fill-opacity="0.8" stroke="#348c40" stroke-width="0.6"/>
<circle cx="241.33" cy="241.50" r="2.05" fill="#55b558" fill-opacity="0.8" stroke="#348c40" stroke-width="0.6"/>
<circle cx="243.00" cy="243.50" r="2.05" fill="#55b558" fill-opacity="0.8" stroke="#348c40" stroke-width="0.6"/>
<circle cx="245.00" cy="245.85" r="2.05" fill="#55b558" fill-opacity="0.8" stroke="#348c40" stroke-width="0.6"/>
<circle cx="247.00" cy="248.20" r="2.05" fill="#55b558" fill-opacity="0.8" stroke="#348c40" stroke-width="0.6"/>
<circle cx="248.50" cy="250.60" r="2.05" fill="#55b558" fill-opacity="0.8" stroke="#348c40" stroke-width="0.6"/>
<circle cx="250.00" cy="253.00" r="2.05" fill="#55b558" fill-opacity="0.8" stroke="#348c40" stroke-width="0.6"/>
<circle cx="251.00" cy="255.75" r="2.05" fill="#55b558" fill-opacity="0.8" stroke="#348c40" stroke-width="0.6"/>
<circle cx="252.00" cy="258.50" r="2.05" fill="#55b558" fill-opacity="0.8" stroke="#348c40" stroke-width="0.6"/>
<circle cx="252.90" cy="261.00" r="2.05" fill="#55b558" fill-opacity="0.8" stroke="#348c40" stroke-width="0.6"/>
<circle cx="253.80" cy="263.50" r="2.05" fill="#55b558" fill-opacity="0.8" stroke="#348c40" stroke-width="0.6"/>
<circle cx="254.60" cy="267.30" r="2.05" fill="#55b558" fill-opacity="0.8" stroke="#348c40" stroke-width="0.6"/>
<circle cx="255.50" cy="275.00" r="2.05" fill="#55b558" fill-opacity="0.8" stroke="#348c40" stroke-width="0.6"/>
<circle cx="257.50" cy="275.50" r="2.05" fill="#55b558" fill-opacity="0.8" stroke="#348c40" stroke-width="0.6"/>
<circle cx="269.50" cy="275.90" r="2.05" fill="#55b558" fill-opacity="0.8" stroke="#348c40" stroke-width="0.6"/>
<text x="193.60" y="270.20" font-size="6.7" text-anchor="start" fill="#222222" stroke="#222222" stroke-width="0.1" transform="rotate(0.05 193.60 270.20)"><tspan font-style="italic">R</tspan><tspan font-size="4.2" dy="-2.6">2</tspan><tspan dy="2.6"> = 0.98</tspan></text>
<text x="191.80" y="280.50" font-size="6.7" text-anchor="start" fill="#222222" stroke="#222222" stroke-width="0.1" transform="rotate(0.05 191.80 280.50)"><tspan font-style="italic">RMSE</tspan> = 4.5 trees/ha</text>
<rect x="318.50" y="192.30" width="91.00" height="90.65" fill="none" stroke="#5c5c5c" stroke-width="0.9"/>
<line x1="315.50" y1="195.40" x2="318.50" y2="195.40" stroke="#5c5c5c" stroke-width="0.7"/>
<text x="315.50" y="197.60" font-size="6.3" text-anchor="end" fill="#222222" stroke="#222222" stroke-width="0.1" transform="rotate(0.05 315.50 197.60)">10<tspan font-size="3.6" dy="-3.6">2</tspan></text>
<line x1="315.50" y1="223.60" x2="318.50" y2="223.60" stroke="#5c5c5c" stroke-width="0.7"/>
<text x="315.50" y="225.80" font-size="6.3" text-anchor="end" fill="#222222" stroke="#222222" stroke-width="0.1" transform="rotate(0.05 315.50 225.80)">10<tspan font-size="3.6" dy="-3.6">1</tspan></text>
<line x1="315.50" y1="251.80" x2="318.50" y2="251.80" stroke="#5c5c5c" stroke-width="0.7"/>
<text x="315.50" y="254.00" font-size="6.3" text-anchor="end" fill="#222222" stroke="#222222" stroke-width="0.1" transform="rotate(0.05 315.50 254.00)">10<tspan font-size="3.6" dy="-3.6">0</tspan></text>
<line x1="315.50" y1="280.00" x2="318.50" y2="280.00" stroke="#5c5c5c" stroke-width="0.7"/>
<text x="315.50" y="282.20" font-size="6.3" text-anchor="end" fill="#222222" stroke="#222222" stroke-width="0.1" transform="rotate(0.05 315.50 282.20)">10<tspan font-size="3.6" dy="-3.6">−1</tspan></text>
<line x1="321.50" y1="282.95" x2="321.50" y2="285.15" stroke="#5c5c5c" stroke-width="0.7"/>
<text x="322.10" y="295.00" font-size="7" text-anchor="middle" fill="#222222" stroke="#222222" stroke-width="0.1" transform="rotate(0.05 322.10 295.00)">0.5</text>
<line x1="347.00" y1="282.95" x2="347.00" y2="285.15" stroke="#5c5c5c" stroke-width="0.7"/>
<text x="347.60" y="295.00" font-size="7" text-anchor="middle" fill="#222222" stroke="#222222" stroke-width="0.1" transform="rotate(0.05 347.60 295.00)">5.0</text>
<line x1="372.50" y1="282.95" x2="372.50" y2="285.15" stroke="#5c5c5c" stroke-width="0.7"/>
<text x="373.10" y="295.00" font-size="7" text-anchor="middle" fill="#222222" stroke="#222222" stroke-width="0.1" transform="rotate(0.05 373.10 295.00)">50.0</text>
<line x1="398.00" y1="282.95" x2="398.00" y2="285.15" stroke="#5c5c5c" stroke-width="0.7"/>
<text x="398.60" y="295.00" font-size="7" text-anchor="middle" fill="#222222" stroke="#222222" stroke-width="0.1" transform="rotate(0.05 398.60 295.00)">500.0</text>
<text x="366.50" y="307.20" font-size="8" text-anchor="middle" fill="#222222" stroke="#222222" stroke-width="0.12" transform="rotate(0.05 366.50 307.20)">Stem diameter (cm)</text>
<text x="297.20" y="242.40" font-size="7.85" text-anchor="middle" fill="#222222" stroke="#222222" stroke-width="0.12" transform="rotate(-89.95 297.20 242.40)">Tree number (1/ha)</text>
<polyline points="339.50,210.00 345.00,216.00 352.00,222.50 360.00,230.00 365.00,234.50 369.90,238.80 373.50,241.50 377.30,245.60 380.40,249.80 382.50,254.00 383.50,256.50 385.80,257.60 387.00,258.80 390.20,265.80" fill="none" stroke="#333333" stroke-width="1.25" stroke-linejoin="round"/>
<circle cx="338.90" cy="208.90" r="2.05" fill="#55b558" fill-opacity="0.8" stroke="#348c40" stroke-width="0.6"/>
<circle cx="341.50" cy="212.00" r="2.05" fill="#55b558" fill-opacity="0.8" stroke="#348c40" stroke-width="0.6"/>
<circle cx="342.60" cy="213.60" r="2.05" fill="#55b558" fill-opacity="0.8" stroke="#348c40" stroke-width="0.6"/>
<circle cx="345.20" cy="215.70" r="2.05" fill="#55b558" fill-opacity="0.8" stroke="#348c40" stroke-width="0.6"/>
<circle cx="347.30" cy="217.80" r="2.05" fill="#55b558" fill-opacity="0.8" stroke="#348c40" stroke-width="0.6"/>
<circle cx="348.90" cy="221.50" r="2.05" fill="#55b558" fill-opacity="0.8" stroke="#348c40" stroke-width="0.6"/>
<circle cx="351.00" cy="221.00" r="2.05" fill="#55b558" fill-opacity="0.8" stroke="#348c40" stroke-width="0.6"/>
<circle cx="353.00" cy="223.60" r="2.05" fill="#55b558" fill-opacity="0.8" stroke="#348c40" stroke-width="0.6"/>
<circle cx="355.70" cy="224.10" r="2.05" fill="#55b558" fill-opacity="0.8" stroke="#348c40" stroke-width="0.6"/>
<circle cx="353.60" cy="227.30" r="2.05" fill="#55b558" fill-opacity="0.8" stroke="#348c40" stroke-width="0.6"/>
<circle cx="357.80" cy="226.70" r="2.05" fill="#55b558" fill-opacity="0.8" stroke="#348c40" stroke-width="0.6"/>
<circle cx="360.40" cy="230.90" r="2.05" fill="#55b558" fill-opacity="0.8" stroke="#348c40" stroke-width="0.6"/>
<circle cx="362.50" cy="233.50" r="2.05" fill="#55b558" fill-opacity="0.8" stroke="#348c40" stroke-width="0.6"/>
<circle cx="352.10" cy="224.10" r="2.05" fill="#55b558" fill-opacity="0.8" stroke="#348c40" stroke-width="0.6"/>
<circle cx="355.20" cy="225.70" r="2.05" fill="#55b558" fill-opacity="0.8" stroke="#348c40" stroke-width="0.6"/>
<circle cx="353.10" cy="228.30" r="2.05" fill="#55b558" fill-opacity="0.8" stroke="#348c40" stroke-width="0.6"/>
<circle cx="357.90" cy="229.90" r="2.05" fill="#55b558" fill-opacity="0.8" stroke="#348c40" stroke-width="0.6"/>
<circle cx="360.50" cy="233.00" r="2.05" fill="#55b558" fill-opacity="0.8" stroke="#348c40" stroke-width="0.6"/>
<circle cx="357.90" cy="236.20" r="2.05" fill="#55b558" fill-opacity="0.8" stroke="#348c40" stroke-width="0.6"/>
<circle cx="363.60" cy="234.60" r="2.05" fill="#55b558" fill-opacity="0.8" stroke="#348c40" stroke-width="0.6"/>
<circle cx="366.80" cy="236.70" r="2.05" fill="#55b558" fill-opacity="0.8" stroke="#348c40" stroke-width="0.6"/>
<circle cx="368.90" cy="238.80" r="2.05" fill="#55b558" fill-opacity="0.8" stroke="#348c40" stroke-width="0.6"/>
<circle cx="365.20" cy="241.40" r="2.05" fill="#55b558" fill-opacity="0.8" stroke="#348c40" stroke-width="0.6"/>
<circle cx="366.80" cy="244.50" r="2.05" fill="#55b558" fill-opacity="0.8" stroke="#348c40" stroke-width="0.6"/>
<circle cx="371.00" cy="245.00" r="2.05" fill="#55b558" fill-opacity="0.8" stroke="#348c40" stroke-width="0.6"/>
<circle cx="362.80" cy="249.00" r="2.05" fill="#55b558" fill-opacity="0.8" stroke="#348c40" stroke-width="0.6"/>
<circle cx="374.10" cy="248.20" r="2.05" fill="#55b558" fill-opacity="0.8" stroke="#348c40" stroke-width="0.6"/>
<circle cx="376.20" cy="250.80" r="2.05" fill="#55b558" fill-opacity="0.8" stroke="#348c40" stroke-width="0.6"/>
<circle cx="380.40" cy="252.40" r="2.05" fill="#55b558" fill-opacity="0.8" stroke="#348c40" stroke-width="0.6"/>
<circle cx="382.50" cy="253.40" r="2.05" fill="#55b558" fill-opacity="0.8" stroke="#348c40" stroke-width="0.6"/>
<circle cx="373.10" cy="254.00" r="2.05" fill="#55b558" fill-opacity="0.8" stroke="#348c40" stroke-width="0.6"/>
<circle cx="377.30" cy="255.50" r="2.05" fill="#55b558" fill-opacity="0.8" stroke="#348c40" stroke-width="0.6"/>
<circle cx="365.70" cy="242.50" r="2.05" fill="#55b558" fill-opacity="0.8" stroke="#348c40" stroke-width="0.6"/>
<circle cx="367.50" cy="245.70" r="2.05" fill="#55b558" fill-opacity="0.8" stroke="#348c40" stroke-width="0.6"/>
<circle cx="371.30" cy="246.90" r="2.05" fill="#55b558" fill-opacity="0.8" stroke="#348c40" stroke-width="0.6"/>
<circle cx="373.80" cy="250.00" r="2.05" fill="#55b558" fill-opacity="0.8" stroke="#348c40" stroke-width="0.6"/>
<circle cx="373.20" cy="255.10" r="2.05" fill="#55b558" fill-opacity="0.8" stroke="#348c40" stroke-width="0.6"/>
<circle cx="377.60" cy="252.60" r="2.05" fill="#55b558" fill-opacity="0.8" stroke="#348c40" stroke-width="0.6"/>
<circle cx="381.40" cy="253.80" r="2.05" fill="#55b558" fill-opacity="0.8" stroke="#348c40" stroke-width="0.6"/>
<circle cx="377.00" cy="260.10" r="2.05" fill="#55b558" fill-opacity="0.8" stroke="#348c40" stroke-width="0.6"/>
<circle cx="378.80" cy="262.00" r="2.05" fill="#55b558" fill-opacity="0.8" stroke="#348c40" stroke-width="0.6"/>
<circle cx="401.50" cy="275.20" r="2.05" fill="#55b558" fill-opacity="0.8" stroke="#348c40" stroke-width="0.6"/>
<circle cx="344.00" cy="214.50" r="2.05" fill="#55b558" fill-opacity="0.8" stroke="#348c40" stroke-width="0.6"/>
<circle cx="346.50" cy="217.00" r="2.05" fill="#55b558" fill-opacity="0.8" stroke="#348c40" stroke-width="0.6"/>
<circle cx="350.00" cy="220.00" r="2.05" fill="#55b558" fill-opacity="0.8" stroke="#348c40" stroke-width="0.6"/>
<circle cx="359.00" cy="229.00" r="2.05" fill="#55b558" fill-opacity="0.8" stroke="#348c40" stroke-width="0.6"/>
<circle cx="361.80" cy="232.20" r="2.05" fill="#55b558" fill-opacity="0.8" stroke="#348c40" stroke-width="0.6"/>
<text x="323.20" y="270.30" font-size="6.7" text-anchor="start" fill="#222222" stroke="#222222" stroke-width="0.1" transform="rotate(0.05 323.20 270.30)"><tspan font-style="italic">R</tspan><tspan font-size="4.2" dy="-2.6">2</tspan><tspan dy="2.6"> = 0.92</tspan></text>
<text x="321.40" y="280.40" font-size="6.7" text-anchor="start" fill="#222222" stroke="#222222" stroke-width="0.1" transform="rotate(0.05 321.40 280.40)"><tspan font-style="italic">RMSE</tspan> = 15 trees/ha</text>
<rect x="453.50" y="192.30" width="90.90" height="90.65" fill="none" stroke="#5c5c5c" stroke-width="0.9"/>
<line x1="450.50" y1="195.40" x2="453.50" y2="195.40" stroke="#5c5c5c" stroke-width="0.7"/>
<text x="450.50" y="197.60" font-size="6.3" text-anchor="end" fill="#222222" stroke="#222222" stroke-width="0.1" transform="rotate(0.05 450.50 197.60)">10<tspan font-size="3.6" dy="-3.6">2</tspan></text>
<line x1="450.50" y1="223.60" x2="453.50" y2="223.60" stroke="#5c5c5c" stroke-width="0.7"/>
<text x="450.50" y="225.80" font-size="6.3" text-anchor="end" fill="#222222" stroke="#222222" stroke-width="0.1" transform="rotate(0.05 450.50 225.80)">10<tspan font-size="3.6" dy="-3.6">1</tspan></text>
<line x1="450.50" y1="251.80" x2="453.50" y2="251.80" stroke="#5c5c5c" stroke-width="0.7"/>
<text x="450.50" y="254.00" font-size="6.3" text-anchor="end" fill="#222222" stroke="#222222" stroke-width="0.1" transform="rotate(0.05 450.50 254.00)">10<tspan font-size="3.6" dy="-3.6">0</tspan></text>
<line x1="450.50" y1="280.00" x2="453.50" y2="280.00" stroke="#5c5c5c" stroke-width="0.7"/>
<text x="450.50" y="282.20" font-size="6.3" text-anchor="end" fill="#222222" stroke="#222222" stroke-width="0.1" transform="rotate(0.05 450.50 282.20)">10<tspan font-size="3.6" dy="-3.6">−1</tspan></text>
<line x1="456.10" y1="282.95" x2="456.10" y2="285.15" stroke="#5c5c5c" stroke-width="0.7"/>
<text x="456.70" y="295.00" font-size="7" text-anchor="middle" fill="#222222" stroke="#222222" stroke-width="0.1" transform="rotate(0.05 456.70 295.00)">0.5</text>
<line x1="481.80" y1="282.95" x2="481.80" y2="285.15" stroke="#5c5c5c" stroke-width="0.7"/>
<text x="482.40" y="295.00" font-size="7" text-anchor="middle" fill="#222222" stroke="#222222" stroke-width="0.1" transform="rotate(0.05 482.40 295.00)">5.0</text>
<line x1="507.50" y1="282.95" x2="507.50" y2="285.15" stroke="#5c5c5c" stroke-width="0.7"/>
<text x="508.10" y="295.00" font-size="7" text-anchor="middle" fill="#222222" stroke="#222222" stroke-width="0.1" transform="rotate(0.05 508.10 295.00)">50.0</text>
<line x1="533.20" y1="282.95" x2="533.20" y2="285.15" stroke="#5c5c5c" stroke-width="0.7"/>
<text x="533.80" y="295.00" font-size="7" text-anchor="middle" fill="#222222" stroke="#222222" stroke-width="0.1" transform="rotate(0.05 533.80 295.00)">500.0</text>
<text x="501.50" y="307.20" font-size="8" text-anchor="middle" fill="#222222" stroke="#222222" stroke-width="0.12" transform="rotate(0.05 501.50 307.20)">Stem diameter (cm)</text>
<text x="432.20" y="242.40" font-size="7.85" text-anchor="middle" fill="#222222" stroke="#222222" stroke-width="0.12" transform="rotate(-89.95 432.20 242.40)">Tree number (1/ha)</text>
<polyline points="465.50,215.60 471.20,207.70 473.90,208.20 480.20,214.00 485.40,218.20 490.60,221.90 493.30,226.60 494.80,229.70 499.00,232.80 503.20,236.00 506.30,240.20 509.90,243.40 514.10,250.70 516.20,258.10 518.30,263.30 520.40,262.80 521.00,267.80 521.50,275.20 522.50,268.90 524.10,268.30 525.20,275.20" fill="none" stroke="#333333" stroke-width="1.25" stroke-linejoin="round"/>
<circle cx="466.00" cy="197.80" r="2.05" fill="#55b558" fill-opacity="0.8" stroke="#348c40" stroke-width="0.6"/>
<circle cx="471.20" cy="202.50" r="2.05" fill="#55b558" fill-opacity="0.8" stroke="#348c40" stroke-width="0.6"/>
<circle cx="475.40" cy="206.70" r="2.05" fill="#55b558" fill-opacity="0.8" stroke="#348c40" stroke-width="0.6"/>
<circle cx="477.50" cy="208.20" r="2.05" fill="#55b558" fill-opacity="0.8" stroke="#348c40" stroke-width="0.6"/>
<circle cx="479.60" cy="209.30" r="2.05" fill="#55b558" fill-opacity="0.8" stroke="#348c40" stroke-width="0.6"/>
<circle cx="481.70" cy="215.60" r="2.05" fill="#55b558" fill-opacity="0.8" stroke="#348c40" stroke-width="0.6"/>
<circle cx="484.40" cy="214.00" r="2.05" fill="#55b558" fill-opacity="0.8" stroke="#348c40" stroke-width="0.6"/>
<circle cx="486.40" cy="218.20" r="2.05" fill="#55b558" fill-opacity="0.8" stroke="#348c40" stroke-width="0.6"/>
<circle cx="489.60" cy="218.70" r="2.05" fill="#55b558" fill-opacity="0.8" stroke="#348c40" stroke-width="0.6"/>
<circle cx="488.00" cy="221.40" r="2.05" fill="#55b558" fill-opacity="0.8" stroke="#348c40" stroke-width="0.6"/>
<circle cx="492.20" cy="220.30" r="2.05" fill="#55b558" fill-opacity="0.8" stroke="#348c40" stroke-width="0.6"/>
<circle cx="493.80" cy="221.90" r="2.05" fill="#55b558" fill-opacity="0.8" stroke="#348c40" stroke-width="0.6"/>
<circle cx="485.30" cy="218.70" r="2.05" fill="#55b558" fill-opacity="0.8" stroke="#348c40" stroke-width="0.6"/>
<circle cx="490.60" cy="219.70" r="2.05" fill="#55b558" fill-opacity="0.8" stroke="#348c40" stroke-width="0.6"/>
<circle cx="496.90" cy="226.50" r="2.05" fill="#55b558" fill-opacity="0.8" stroke="#348c40" stroke-width="0.6"/>
<circle cx="494.80" cy="231.80" r="2.05" fill="#55b558" fill-opacity="0.8" stroke="#348c40" stroke-width="0.6"/>
<circle cx="497.90" cy="233.30" r="2.05" fill="#55b558" fill-opacity="0.8" stroke="#348c40" stroke-width="0.6"/>
<circle cx="500.00" cy="230.70" r="2.05" fill="#55b558" fill-opacity="0.8" stroke="#348c40" stroke-width="0.6"/>
<circle cx="502.60" cy="232.30" r="2.05" fill="#55b558" fill-opacity="0.8" stroke="#348c40" stroke-width="0.6"/>
<circle cx="505.30" cy="231.20" r="2.05" fill="#55b558" fill-opacity="0.8" stroke="#348c40" stroke-width="0.6"/>
<circle cx="507.90" cy="236.00" r="2.05" fill="#55b558" fill-opacity="0.8" stroke="#348c40" stroke-width="0.6"/>
<circle cx="508.90" cy="242.80" r="2.05" fill="#55b558" fill-opacity="0.8" stroke="#348c40" stroke-width="0.6"/>
<circle cx="511.50" cy="244.40" r="2.05" fill="#55b558" fill-opacity="0.8" stroke="#348c40" stroke-width="0.6"/>
<circle cx="512.60" cy="246.40" r="2.05" fill="#55b558" fill-opacity="0.8" stroke="#348c40" stroke-width="0.6"/>
<circle cx="514.70" cy="248.50" r="2.05" fill="#55b558" fill-opacity="0.8" stroke="#348c40" stroke-width="0.6"/>
<circle cx="508.30" cy="241.30" r="2.05" fill="#55b558" fill-opacity="0.8" stroke="#348c40" stroke-width="0.6"/>
<circle cx="513.60" cy="245.50" r="2.05" fill="#55b558" fill-opacity="0.8" stroke="#348c40" stroke-width="0.6"/>
<circle cx="508.90" cy="248.60" r="2.05" fill="#55b558" fill-opacity="0.8" stroke="#348c40" stroke-width="0.6"/>
<circle cx="515.20" cy="249.70" r="2.05" fill="#55b558" fill-opacity="0.8" stroke="#348c40" stroke-width="0.6"/>
<circle cx="516.70" cy="253.90" r="2.05" fill="#55b558" fill-opacity="0.8" stroke="#348c40" stroke-width="0.6"/>
<circle cx="513.60" cy="257.50" r="2.05" fill="#55b558" fill-opacity="0.8" stroke="#348c40" stroke-width="0.6"/>
<circle cx="500.00" cy="256.50" r="2.05" fill="#55b558" fill-opacity="0.8" stroke="#348c40" stroke-width="0.6"/>
<circle cx="513.10" cy="263.30" r="2.05" fill="#55b558" fill-opacity="0.8" stroke="#348c40" stroke-width="0.6"/>
<circle cx="515.20" cy="264.90" r="2.05" fill="#55b558" fill-opacity="0.8" stroke="#348c40" stroke-width="0.6"/>
<circle cx="515.70" cy="252.10" r="2.05" fill="#55b558" fill-opacity="0.8" stroke="#348c40" stroke-width="0.6"/>
<circle cx="519.40" cy="267.30" r="2.05" fill="#55b558" fill-opacity="0.8" stroke="#348c40" stroke-width="0.6"/>
<text x="458.20" y="270.40" font-size="6.7" text-anchor="start" fill="#222222" stroke="#222222" stroke-width="0.1" transform="rotate(0.05 458.20 270.40)"><tspan font-style="italic">R</tspan><tspan font-size="4.2" dy="-2.6">2</tspan><tspan dy="2.6"> = 0.89</tspan></text>
<text x="456.40" y="280.60" font-size="6.7" text-anchor="start" fill="#222222" stroke="#222222" stroke-width="0.1" transform="rotate(0.05 456.40 280.60)"><tspan font-style="italic">RMSE</tspan> = 15.3 trees/ha</text>
<line x1="6.50" y1="316.30" x2="23.50" y2="316.30" stroke="#333" stroke-width="1.3"/>
<circle cx="14.8" cy="325.8" r="2.2" fill="#2f8f3a"/>
<text x="30.60" y="319.70" font-size="8" text-anchor="start" fill="#222222" stroke="#222222" stroke-width="0.12" transform="rotate(0.05 30.60 319.70)">Inventory</text>
<text x="30.60" y="329.00" font-size="8" text-anchor="start" fill="#222222" stroke="#222222" stroke-width="0.12" transform="rotate(0.05 30.60 329.00)">lidar−derived</text>
</svg></body></html>
